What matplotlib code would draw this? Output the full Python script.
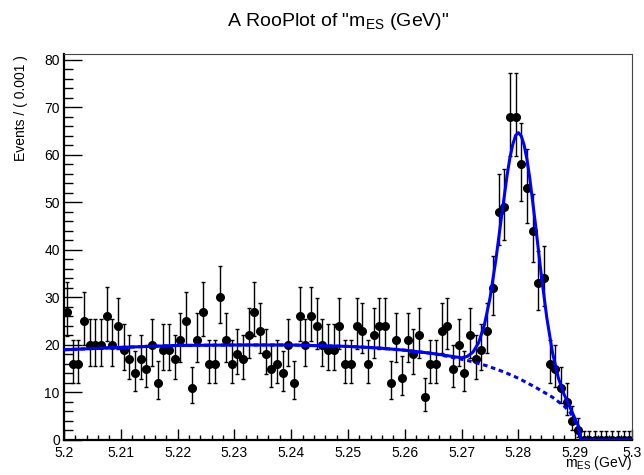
import math
import numpy as np
import matplotlib
matplotlib.use('Agg')
import matplotlib.pyplot as plt
from matplotlib.ticker import MultipleLocator, FixedLocator, FixedFormatter

plt.rcParams['font.family'] = ['Liberation Sans', 'DejaVu Sans']
plt.rcParams['mathtext.fontset'] = 'custom'
plt.rcParams['mathtext.rm'] = 'Liberation Sans'
plt.rcParams['mathtext.it'] = 'Liberation Sans:italic'

# binned data: 100 bins of 0.001 between 5.20 and 5.30
X_MIN, X_MAX, N_BINS = 5.20, 5.30, 100
counts = [27, 16, 16, 25, 20, 20, 20, 26, 20, 24,
          19, 17, 14, 17, 15, 20, 12, 19, 19, 17,
          21, 25, 11, 21, 27, 16, 16, 30, 21, 16,
          18, 17, 22, 27, 23, 18, 15, 16, 14, 20,
          12, 26, 20, 26, 24, 20, 19, 19, 24, 16,
          16, 24, 23, 16, 22, 24, 24, 12, 21, 13,
          21, 18, 22, 9, 16, 16, 23, 24, 15, 20,
          14, 22, 17, 19, 23, 32, 48, 49, 68, 68,
          58, 53, 44, 33, 34, 16, 15, 11, 8, 4,
          2, 0, 0, 0, 0, 0, 0, 0, 0, 0]

# full model (signal + background)
total_x = [5.200, 5.210, 5.220, 5.230, 5.240, 5.250, 5.255, 5.260, 5.265,
           5.270, 5.271, 5.272, 5.273, 5.274, 5.275, 5.276, 5.277, 5.278,
           5.2785, 5.279, 5.2795, 5.280, 5.2805, 5.281, 5.2815, 5.282,
           5.283, 5.284, 5.285, 5.286, 5.287, 5.288, 5.289, 5.290, 5.2905,
           5.291, 5.300]
total_y = [19.0, 19.5, 19.9, 20.0, 20.0, 19.7, 19.4, 18.9, 18.2,
           17.3, 17.6, 18.5, 20.5, 24.2, 29.9, 37.7, 46.8, 55.7,
           59.4, 62.2, 64.1, 64.7, 64.0, 62.1, 59.1, 55.1,
           45.4, 35.0, 25.7, 18.4, 13.2, 9.7, 7.1, 4.4, 3.1,
           0.0, 0.0]

# background component (dashed)
bkg_x = [5.200, 5.210, 5.220, 5.230, 5.240, 5.250, 5.255, 5.260, 5.265,
         5.270, 5.2715, 5.2745, 5.2775, 5.280, 5.283, 5.286, 5.288,
         5.289, 5.290, 5.2905, 5.2909, 5.291, 5.300]
bkg_y = [19.0, 19.5, 19.9, 20.0, 20.0, 19.7, 19.4, 18.9, 18.2,
         17.0, 16.6, 15.6, 14.3, 13.0, 11.1, 9.0, 7.2,
         6.0, 4.0, 2.9, 1.3, 0.0, 0.0]

x_ticks = [5.20, 5.21, 5.22, 5.23, 5.24, 5.25, 5.26, 5.27, 5.28, 5.29, 5.30]
x_tick_labels = ['5.2', '5.21', '5.22', '5.23', '5.24', '5.25',
                 '5.26', '5.27', '5.28', '5.29', '5.3']


def pois_cdf(n, mu):
    term = math.exp(-mu)
    s = term
    for k in range(1, n + 1):
        term *= mu / k
        s += term
    return s


def pois_interval(n, alpha=0.158655):
    # upper edge: P(X <= n | mu) = alpha
    lo, hi = float(n), n + 10 * math.sqrt(n + 1) + 10
    for _ in range(80):
        mid = 0.5 * (lo + hi)
        if pois_cdf(n, mid) > alpha:
            lo = mid
        else:
            hi = mid
    up = 0.5 * (lo + hi)
    if n == 0:
        return 0.0, up
    # lower edge: P(X >= n | mu) = alpha
    lo, hi = 0.0, float(n)
    for _ in range(80):
        mid = 0.5 * (lo + hi)
        if 1 - pois_cdf(n - 1, mid) < alpha:
            lo = mid
        else:
            hi = mid
    return 0.5 * (lo + hi), up


counts = np.array(counts, dtype=float)
centers = X_MIN + (X_MAX - X_MIN) / N_BINS * (np.arange(N_BINS) + 0.5)
intervals = np.array([pois_interval(int(n)) for n in counts])
err_lo = counts - intervals[:, 0]
err_hi = intervals[:, 1] - counts

fig = plt.figure(figsize=(6.44, 4.75), dpi=100)
ax = fig.add_axes([0.0994, 0.0737, 0.9814 - 0.0994, 0.8857 - 0.0737])

ax.errorbar(centers, counts, yerr=[err_lo, err_hi], fmt='o', color='black',
            markersize=5.5, elinewidth=1.0, capsize=1.5, capthick=1.0,
            zorder=2)
ax.plot(bkg_x, bkg_y, color='#0000ff', linewidth=2.2,
        linestyle=(0, (1.5, 1.2)), zorder=3)
ax.plot(total_x, total_y, color='#0000ff', linewidth=2.2, zorder=4)

ax.set_xlim(X_MIN, X_MAX)
ax.set_ylim(0, 81.2)
ax.xaxis.set_major_locator(FixedLocator(x_ticks))
ax.xaxis.set_major_formatter(FixedFormatter(x_tick_labels))
ax.xaxis.set_minor_locator(MultipleLocator(0.002))
ax.yaxis.set_major_locator(MultipleLocator(10))
ax.yaxis.set_minor_locator(MultipleLocator(2))
ax.tick_params(axis='both', which='both', direction='in', top=False,
               right=False, labelsize=10, width=1.0, color='black')
ax.tick_params(axis='y', which='major', length=12.7, pad=3)
ax.tick_params(axis='y', which='minor', length=6.3)
ax.tick_params(axis='x', which='major', length=7.7, pad=4)
ax.tick_params(axis='x', which='minor', length=3.6)

for side in ['left', 'bottom']:
    ax.spines[side].set_linewidth(1.6)
for side in ['top', 'right']:
    ax.spines[side].set_linewidth(0.8)
    ax.spines[side].set_color('#444444')

fig.text(0.525, 0.954, 'A RooPlot of "m$_{\\rm ES}$ (GeV)"',
         ha='center', va='center', fontsize=14)
fig.text(0.033, 0.883, 'Events / ( 0.001 )', rotation=90,
         ha='center', va='top', fontsize=10)
fig.text(0.982, 0.006, 'm$_{\\rm ES}$ (GeV)', ha='right', va='bottom',
         fontsize=10)

fig.savefig('out.png', dpi=100)
